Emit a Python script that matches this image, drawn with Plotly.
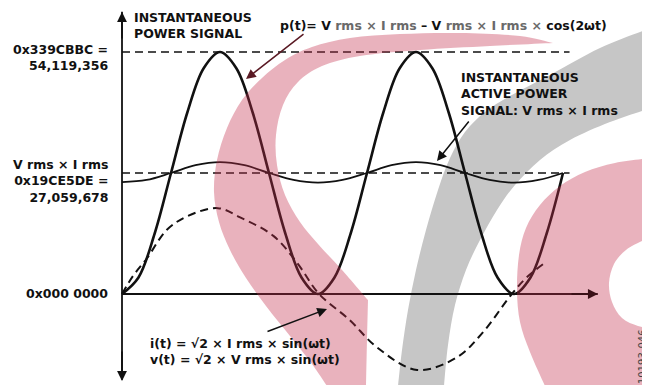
import plotly.graph_objects as go

# ---------------- data ----------------
P_RMS = 27_059_678          # 0x19CE5DE
P_PEAK = 54_119_356         # 0x339CBBC
tick_vals = [0, P_RMS, P_PEAK]
tick_text = [
    ["0x000 0000"],
    ["V rms × I rms", "0x19CE5DE =", "27,059,678"],
    ["0x339CBBC =", "54,119,356"],
]

# phase ωt in degrees, values in millions of LSB
p_theta = [0, 15, 30, 45, 60, 75, 90, 105, 120, 135, 150, 165, 180, 195, 210,
           225, 240, 255, 270, 285, 300, 315, 330, 345, 360, 375, 390, 405]
p_vals = [0, 3.63, 13.53, 27.06, 40.59, 50.49, 54.12, 50.49, 40.59, 27.06, 13.53,
          3.63, 0, 3.63, 13.53, 27.06, 40.59, 50.49, 54.12, 50.49, 40.59, 27.06,
          13.53, 3.63, 0, 3.63, 13.53, 27.06]

act_theta = [0, 22.5, 45, 67.5, 90, 112.5, 135, 157.5, 180, 202.5, 225, 247.5,
             270, 292.5, 315, 337.5, 360, 382.5, 405]
act_vals = [25.0, 25.5, 27.06, 28.8, 29.5, 28.8, 27.06, 25.5, 24.9, 25.5, 27.06,
            28.8, 29.5, 28.8, 27.06, 25.5, 24.9, 25.5, 27.06]

iv_theta = [0, 10, 23, 41, 60, 88, 108, 139, 161, 181, 209, 234, 271, 308, 331,
            358, 372, 388]
iv_vals = [0, 4.0, 8.0, 14.3, 17.4, 19.2, 17.2, 13.0, 6.9, 0, -5.8, -11.9, -17.0,
           -14.1, -8.7, 0, 3.8, 6.9]

ref_line_end = 411          # degrees, end of the dashed reference lines
x_axis_end = 437            # degrees, tip of the x-axis arrow
y_axis_top = 63.1e6
y_axis_bottom = -19.2e6

# ---------------- layout geometry ----------------
OFF = 8                          # page body margin in the browser
W, H = 650 - OFF, 385 - OFF      # figure size so it fits the window
X0_PX, Y0_PX = 122, 294          # origin in window pixels
PX_PER_DEG = 196 / 180
UNITS_PER_PX = P_RMS / 121.0
x_range = [-(X0_PX - OFF) / PX_PER_DEG, (W - (X0_PX - OFF)) / PX_PER_DEG]
y_range = [-(H - (Y0_PX - OFF)) * UNITS_PER_PX, (Y0_PX - OFF) * UNITS_PER_PX]

FONT = "DejaVu Sans, Verdana, sans-serif"
FS = 12.5
INK = "#111111"


def deg_px(d):
    return X0_PX + d * PX_PER_DEG


def px_to_x(x):
    return (x - X0_PX) / PX_PER_DEG


def px_to_y(y):
    return (Y0_PX - y) * UNITS_PER_PX


def to_paper(p):
    return ((p[0] - OFF) / W, 1 - (p[1] - OFF) / H)


fig = go.Figure()

# dashed reference lines
for v in (P_PEAK, P_RMS):
    fig.add_trace(go.Scatter(x=[0, ref_line_end], y=[v, v], mode="lines",
                             line=dict(color=INK, width=1.6, dash="8px,5px"),
                             hoverinfo="skip", showlegend=False))

# axes lines
fig.add_trace(go.Scatter(x=[0, 0], y=[y_axis_bottom, y_axis_top], mode="lines",
                         line=dict(color=INK, width=1.8), hoverinfo="skip", showlegend=False))
fig.add_trace(go.Scatter(x=[0, x_axis_end], y=[0, 0], mode="lines",
                         line=dict(color=INK, width=1.8), hoverinfo="skip", showlegend=False))

# i(t)/v(t) dashed sine
fig.add_trace(go.Scatter(x=iv_theta, y=[v * 1e6 for v in iv_vals], mode="lines",
                         line=dict(color=INK, width=2, dash="8px,5px", shape="spline", smoothing=1),
                         hoverinfo="skip", showlegend=False))
# instantaneous active power (small ripple)
fig.add_trace(go.Scatter(x=act_theta, y=[v * 1e6 for v in act_vals], mode="lines",
                         line=dict(color=INK, width=1.8, shape="spline", smoothing=1),
                         hoverinfo="skip", showlegend=False))
# instantaneous power p(t)
fig.add_trace(go.Scatter(x=p_theta, y=[v * 1e6 for v in p_vals], mode="lines",
                         line=dict(color=INK, width=2.6, shape="spline", smoothing=1),
                         hoverinfo="skip", showlegend=False))

annotations = []


def text(x, y, lines, anchor="left", size=FS, color=INK, bold=True, angle=0):
    if isinstance(lines, str):
        lines = [lines]
    body = "<br>".join(f"<b>{s}</b>" if bold else s for s in lines)
    px, py = to_paper((x, y))
    annotations.append(dict(
        x=px, y=py, xref="paper", yref="paper",
        text=body, showarrow=False, align=anchor if anchor != "center" else "center",
        xanchor=anchor, yanchor="middle", textangle=angle,
        font=dict(family=FONT, size=size, color=color)))


# y tick labels (right aligned), block centres in window pixels
tick_centers = {0: 293, P_RMS: 181, P_PEAK: 58}
for v, lines in zip(tick_vals, tick_text):
    text(110, tick_centers[v], lines, anchor="right")

text(132, 25.5, ["INSTANTANEOUS", "POWER SIGNAL"])
GR = "#6a6a6a"
text(278, 26, f"p(t)= V <span style='color:{GR}'>rms × I rms</span> – V "
              f"<span style='color:{GR}'>rms × I rms ×</span> cos(2ωt)")
text(459, 94, ["INSTANTANEOUS", "ACTIVE POWER", "SIGNAL: V rms × I rms"])
text(148, 351, ["i(t) = √2 × I rms × sin(ωt)", "v(t) = √2 × V rms × sin(ωt)"])
text(642, 357, "10193-046", anchor="center", size=10, color="#444444", bold=False, angle=-90)


def arrow(tail_px, head_px, color=INK, width=1.5, size=1.3, head=2):
    annotations.append(dict(
        x=px_to_x(head_px[0]), y=px_to_y(head_px[1]),
        ax=px_to_x(tail_px[0]), ay=px_to_y(tail_px[1]),
        xref="x", yref="y", axref="x", ayref="y", text="",
        showarrow=True, arrowhead=head, arrowsize=size, arrowwidth=width,
        arrowcolor=color, standoff=0))


# axis arrow heads
arrow((X0_PX, 40), (X0_PX, 12), width=1.8, size=1.1)
arrow((X0_PX, 350), (X0_PX, 381), width=1.8, size=1.1)
arrow((570, Y0_PX), (deg_px(x_axis_end), Y0_PX), color="#3a1017", width=1.8, size=1.1)
# pointers
arrow((305, 33), (246, 79), color="#5a1a24")
arrow((470, 120), (437, 161))
arrow((266, 332), (327, 309))

# ---------------- watermark shapes ----------------


def smooth_path(segments):
    d = ""
    for si, seg in enumerate(segments):
        P = [to_paper(p) for p in seg]
        d += ("M" if si == 0 else " L") + f"{P[0][0]:.5f},{P[0][1]:.5f}"
        n = len(P)
        for i in range(n - 1):
            p0 = P[i - 1] if i > 0 else P[i]
            p1, p2 = P[i], P[i + 1]
            p3 = P[i + 2] if i + 2 < n else P[i + 1]
            c1 = (p1[0] + (p2[0] - p0[0]) / 6, p1[1] + (p2[1] - p0[1]) / 6)
            c2 = (p2[0] - (p3[0] - p1[0]) / 6, p2[1] - (p3[1] - p1[1]) / 6)
            d += (f" C{c1[0]:.5f},{c1[1]:.5f} {c2[0]:.5f},{c2[1]:.5f} "
                  f"{p2[0]:.5f},{p2[1]:.5f}")
    return d + " Z"


pink_c = smooth_path([
    [(553, 43), (520, 36), (460, 33), (400, 34), (350, 38), (312, 47), (285, 60),
     (262, 78), (242, 100), (227, 128), (217, 160), (214, 192), (219, 222),
     (230, 250), (246, 278), (266, 306), (290, 336), (312, 364), (327, 386)],
    [(366, 386), (367, 340), (368, 300)],
    [(368, 300), (342, 270), (318, 244), (300, 222), (285, 195), (277, 165),
     (276, 135), (283, 105), (298, 82), (322, 66), (360, 56), (420, 50),
     (490, 46), (553, 43)],
])
pink_blob = smooth_path([
    [(651, 158), (615, 163), (585, 172), (560, 186), (540, 205), (526, 228),
     (519, 255), (517, 290), (520, 322), (530, 352), (545, 386)],
    [(651, 386), (651, 328)],
    [(651, 328), (638, 326), (622, 318), (612, 302), (609, 283), (614, 264),
     (626, 250), (642, 241), (651, 239)],
])
gray_band = smooth_path([
    [(651, 28), (600, 48), (550, 75), (510, 96), (485, 112), (465, 132),
     (450, 158), (438, 190), (426, 230), (416, 270), (408, 310), (402, 350),
     (398, 386)],
    [(444, 386), (448, 345), (455, 305), (466, 270), (480, 240), (497, 210),
     (515, 185), (540, 160), (570, 140), (610, 122), (651, 108)],
])

shapes = [
    dict(type="path", path=gray_band, xref="paper", yref="paper",
         fillcolor="#c6c6c6", line=dict(width=0), layer="below"),
    dict(type="path", path=pink_c, xref="paper", yref="paper",
         fillcolor="rgb(195,45,75)", opacity=0.37, line=dict(width=0), layer="above"),
    dict(type="path", path=pink_blob, xref="paper", yref="paper",
         fillcolor="rgb(195,45,75)", opacity=0.37, line=dict(width=0), layer="above"),
]

fig.update_layout(
    width=W, height=H, margin=dict(l=0, r=0, t=0, b=0),
    paper_bgcolor="white", plot_bgcolor="white",
    xaxis=dict(range=x_range, visible=False, fixedrange=True),
    yaxis=dict(range=y_range, visible=False, fixedrange=True),
    annotations=annotations, shapes=shapes, showlegend=False,
)

fig.write_html("out.html")
